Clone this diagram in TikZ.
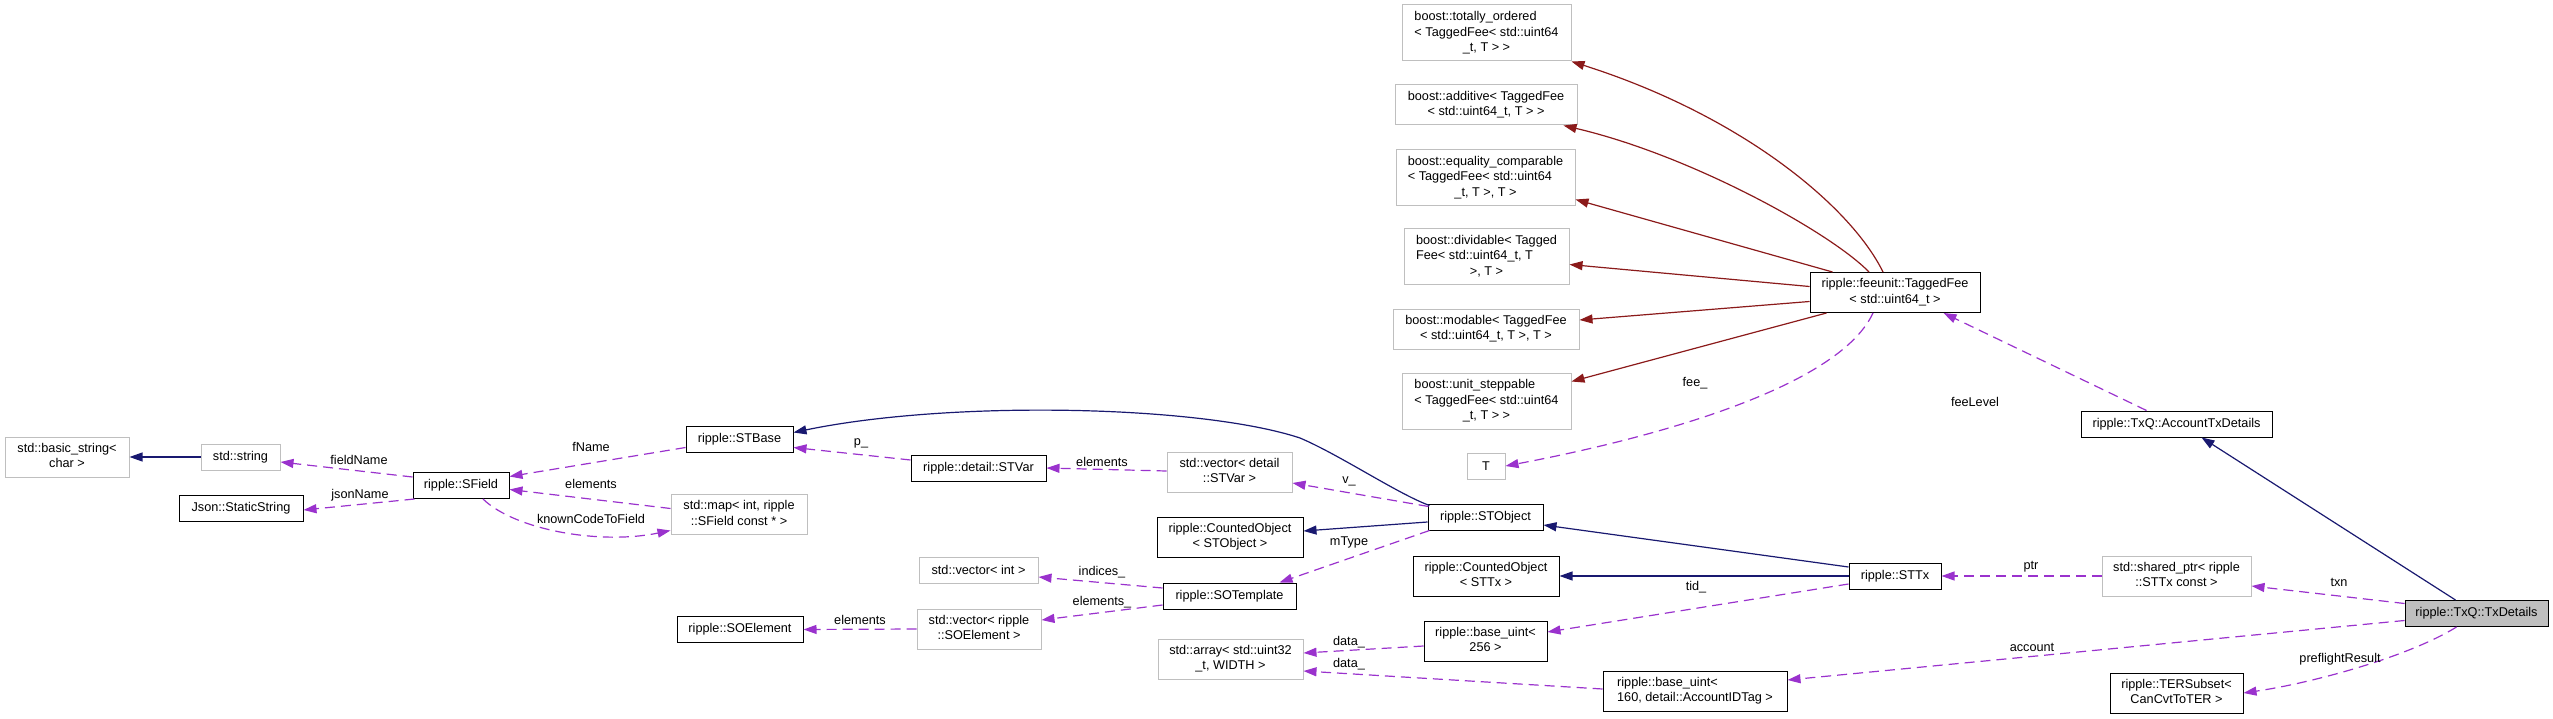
\documentclass[tikz,border=0pt]{standalone}
\usepackage{fontspec}
\setmainfont{Liberation Sans}
\usetikzlibrary{arrows.meta,calc}
\definecolor{navy}{HTML}{191970}
\definecolor{dred}{HTML}{8B1A1A}
\definecolor{purp}{HTML}{9A32CD}
\definecolor{gbord}{HTML}{BFBFBF}
\newcommand{\nfont}{\fontsize{12.7}{15.5}\selectfont}
\newcommand{\ml}[2]{\begin{tabular}{@{}l@{}}#1\\\multicolumn{1}{@{}c@{}}{#2}\end{tabular}}
\tikzset{
  box/.style={draw=black, line width=1pt, inner sep=0pt, font=\nfont, align=center},
  gbox/.style={box, draw=gbord},
  lbl/.style={font=\nfont, inner sep=0pt},
  inh/.style={draw=navy, line width=1.2pt, -{Triangle[length=13pt,width=9pt]}},
  priv/.style={draw=dred, line width=1.2pt, -{Triangle[length=13pt,width=9pt]}},
  use/.style={draw=purp, line width=1.2pt, dash pattern=on 10pt off 6pt, -{Triangle[length=13pt,width=9pt]}},
}
\begin{document}
\begin{tikzpicture}[x=1pt,y=-1pt]
\useasboundingbox (0,0) rectangle (2553,719);
% nodes
\node[gbox, minimum width=124pt, minimum height=40pt] (bstr) at (67,457) {\ml{std::basic\_string<}{char >}};
\node[gbox, minimum width=79pt, minimum height=26pt] (strg) at (240.5,457) {std::string};
\node[box, minimum width=96pt, minimum height=26pt] (sfield) at (461,485.5) {ripple::SField};
\node[box, minimum width=124pt, minimum height=26pt] (json) at (241,508) {Json::StaticString};
\node[box, minimum width=107pt, minimum height=26pt] (stbase) at (739.5,439.5) {ripple::STBase};
\node[box, minimum width=135pt, minimum height=26pt] (stvar) at (978.5,468) {ripple::detail::STVar};
\node[gbox, minimum width=125pt, minimum height=40pt] (vecstvar) at (1229.5,472) {\ml{std::vector< detail}{::STVar >}};
\node[gbox, minimum width=136pt, minimum height=40pt] (map) at (739,514.5) {\ml{std::map< int, ripple}{::SField const * >}};
\node[box, minimum width=146pt, minimum height=40pt] (coSTO) at (1230,537) {\ml{ripple::CountedObject}{< STObject >}};
\node[gbox, minimum width=119pt, minimum height=26pt] (vint) at (978.5,570) {std::vector< int >};
\node[box, minimum width=133pt, minimum height=26pt] (sotpl) at (1229.5,596) {ripple::SOTemplate};
\node[gbox, minimum width=124pt, minimum height=40pt] (vsoe) at (979,629) {\ml{std::vector< ripple}{::SOElement >}};
\node[box, minimum width=126pt, minimum height=26pt] (soe) at (740,629.5) {ripple::SOElement};
\node[gbox, minimum width=145pt, minimum height=40pt] (arr) at (1230.5,659) {\ml{std::array< std::uint32}{\_t, WIDTH >}};
\node[gbox, minimum width=169pt, minimum height=56pt] (tord) at (1486.5,33) {\ml{boost::totally\_ordered\\< TaggedFee< std::uint64}{\_t, T > >}};
\node[gbox, minimum width=182pt, minimum height=40pt] (add) at (1486,105) {\ml{boost::additive< TaggedFee}{< std::uint64\_t, T > >}};
\node[gbox, minimum width=179pt, minimum height=56pt] (eq) at (1485.5,177.5) {\ml{boost::equality\_comparable\\< TaggedFee< std::uint64}{\_t, T >, T >}};
\node[gbox, minimum width=165pt, minimum height=56pt] (div) at (1486.5,256.5) {\ml{boost::dividable< Tagged\\Fee< std::uint64\_t, T}{>, T >}};
\node[gbox, minimum width=186pt, minimum height=40pt] (mod) at (1486,329) {\ml{boost::modable< TaggedFee}{< std::uint64\_t, T >, T >}};
\node[gbox, minimum width=169pt, minimum height=56pt] (us) at (1486.5,401) {\ml{boost::unit\_steppable\\< TaggedFee< std::uint64}{\_t, T > >}};
\node[gbox, minimum width=38pt, minimum height=26pt] (T) at (1486,466) {T};
\node[box, minimum width=170pt, minimum height=40pt] (tf) at (1895,292.5) {\ml{ripple::feeunit::TaggedFee}{< std::uint64\_t >}};
\node[box, minimum width=115pt, minimum height=26pt] (stobj) at (1485.5,517) {ripple::STObject};
\node[box, minimum width=146pt, minimum height=40pt] (coSTTx) at (1486,576) {\ml{ripple::CountedObject}{< STTx >}};
\node[box, minimum width=92pt, minimum height=26pt] (sttx) at (1895,576) {ripple::STTx};
\node[box, minimum width=123pt, minimum height=40pt] (bu256) at (1485.5,641) {\ml{ripple::base\_uint<}{256 >}};
\node[box, minimum width=184pt, minimum height=40pt] (bu160) at (1695,691) {\ml{ripple::base\_uint<}{160, detail::AccountIDTag >}};
\node[box, minimum width=191pt, minimum height=26pt] (atd) at (2176.5,424) {ripple::TxQ::AccountTxDetails};
\node[gbox, minimum width=149pt, minimum height=40pt] (shptr) at (2176.5,576) {\ml{std::shared\_ptr< ripple}{::STTx const >}};
\node[box, fill=gbord, minimum width=143pt, minimum height=26pt] (txd) at (2476.5,613.5) {ripple::TxQ::TxDetails};
\node[box, minimum width=133pt, minimum height=40pt] (ters) at (2176.5,693) {\ml{ripple::TERSubset<}{CanCvtToTER >}};
% inheritance (navy)
\draw[inh] (strg.west) -- (bstr.east);
\draw[inh] ($(stobj.north west)+(2,2)$) .. controls (1398,494) and (1340,455) .. (1300,438)
   .. controls (1200,405) and (950,400) .. ($(stbase.east)+(0,-7)$);
\draw[inh] ($(stobj.west)+(0,5)$) -- ($(coSTO.east)+(0,-6)$);
\draw[inh] ($(sttx.west)+(0,-9)$) -- ($(stobj.east)+(0,8)$);
\draw[inh] (sttx.west) -- (coSTTx.east);
\draw[inh] ($(txd.north)+(-21,0)$) -- ($(atd.south)+(25,0)$);
% private inheritance (dark red)
\draw[priv] ($(tf.north)+(-12,0)$) .. controls (1850,205) and (1740,115) .. (tord.south east);
\draw[priv] ($(tf.north)+(-26,0)$) .. controls (1830,232) and (1690,155) .. ($(add.south east)+(-14,0)$);
\draw[priv] ($(tf.north west)+(23,0)$) -- ($(eq.east)+(0,22)$);
\draw[priv] ($(tf.west)+(0,-6)$) -- ($(div.east)+(0,8)$);
\draw[priv] ($(tf.west)+(0,9)$) -- ($(mod.east)+(0,-9)$);
\draw[priv] ($(tf.south west)+(17,0)$) -- ($(us.north east)+(0,9)$);
% usage (purple dashed)
\draw[use] ($(sfield.north west)+(0,5)$) -- ($(strg.east)+(0,5)$);
\draw[use] ($(sfield.south west)+(2,0)$) -- ($(json.east)+(0,2)$);
\draw[use] ($(stbase.west)+(0,8)$) -- ($(sfield.east)+(0,-9)$);
\draw[use] ($(map.west)+(0,-6)$) -- ($(sfield.east)+(0,4)$);
\draw[use] ($(sfield.south)+(22,0)$) .. controls (515,530) and (600,545) .. ($(map.west)+(0,16)$);
\draw[use] ($(stvar.west)+(0,-8)$) -- ($(stbase.east)+(0,8)$);
\draw[use] ($(vecstvar.west)+(0,-1)$) -- (stvar.east);
\draw[use] ($(stobj.north west)+(1,3)$) -- ($(vecstvar.east)+(0,11)$);
\draw[use] ($(stobj.south west)+(2,0)$) -- ($(sotpl.north east)+(-17,0)$);
\draw[use] ($(sotpl.west)+(0,-8)$) -- ($(vint.east)+(0,7)$);
\draw[use] ($(sotpl.west)+(0,9)$) -- ($(vsoe.east)+(0,-9)$);
\draw[use] (vsoe.west) -- (soe.east);
\draw[use] ($(bu256.west)+(0,5)$) -- ($(arr.east)+(0,-6)$);
\draw[use] ($(bu160.west)+(0,-2)$) -- ($(arr.east)+(0,12)$);
\draw[use] ($(sttx.west)+(0,8)$) -- ($(bu256.east)+(0,-9)$);
\draw[use] ($(tf.south)+(-22,0)$) .. controls (1835,395) and (1617,445) .. (T.east);
\draw[use] ($(atd.north)+(-30,0)$) -- ($(tf.south east)+(-37,0)$);
\draw[use] (shptr.west) -- (sttx.east);
\draw[use] ($(txd.west)+(0,-10)$) -- ($(shptr.east)+(0,10)$);
\draw[use] ($(txd.west)+(0,7)$) -- ($(bu160.east)+(0,-11)$);
\draw[use] ($(txd.south)+(-20,0)$) .. controls (2408,657) and (2312,683) .. (ters.east);
% edge labels
\node[lbl] (l1) at (359,460) {fieldName};
\node[lbl] (l2) at (360,495) {jsonName};
\node[lbl] (l3) at (591,447) {fName};
\node[lbl] (l4) at (591,484) {elements};
\node[lbl] (l5) at (591,519) {knownCodeToField};
\node[lbl] (l6) at (861,443) {p\_};
\node[lbl] (l7) at (1102,462) {elements};
\node[lbl] (l8) at (1349,481) {v\_};
\node[lbl] (l9) at (1349,542) {mType};
\node[lbl] (l10) at (1102,572) {indices\_};
\node[lbl] (l11) at (1102,602) {elements\_};
\node[lbl] (l12) at (860,620) {elements};
\node[lbl] (l13) at (1349,642) {data\_};
\node[lbl] (l14) at (1349,664) {data\_};
\node[lbl] (l15) at (1696,587) {tid\_};
\node[lbl] (l16) at (1695,383) {fee\_};
\node[lbl] (l17) at (1975,402) {feeLevel};
\node[lbl] (l18) at (2031,567) {ptr};
\node[lbl] (l19) at (2339,582) {txn};
\node[lbl] (l20) at (2032,647) {account};
\node[lbl] (l21) at (2340,659) {preflightResult};
\end{tikzpicture}
\end{document}
